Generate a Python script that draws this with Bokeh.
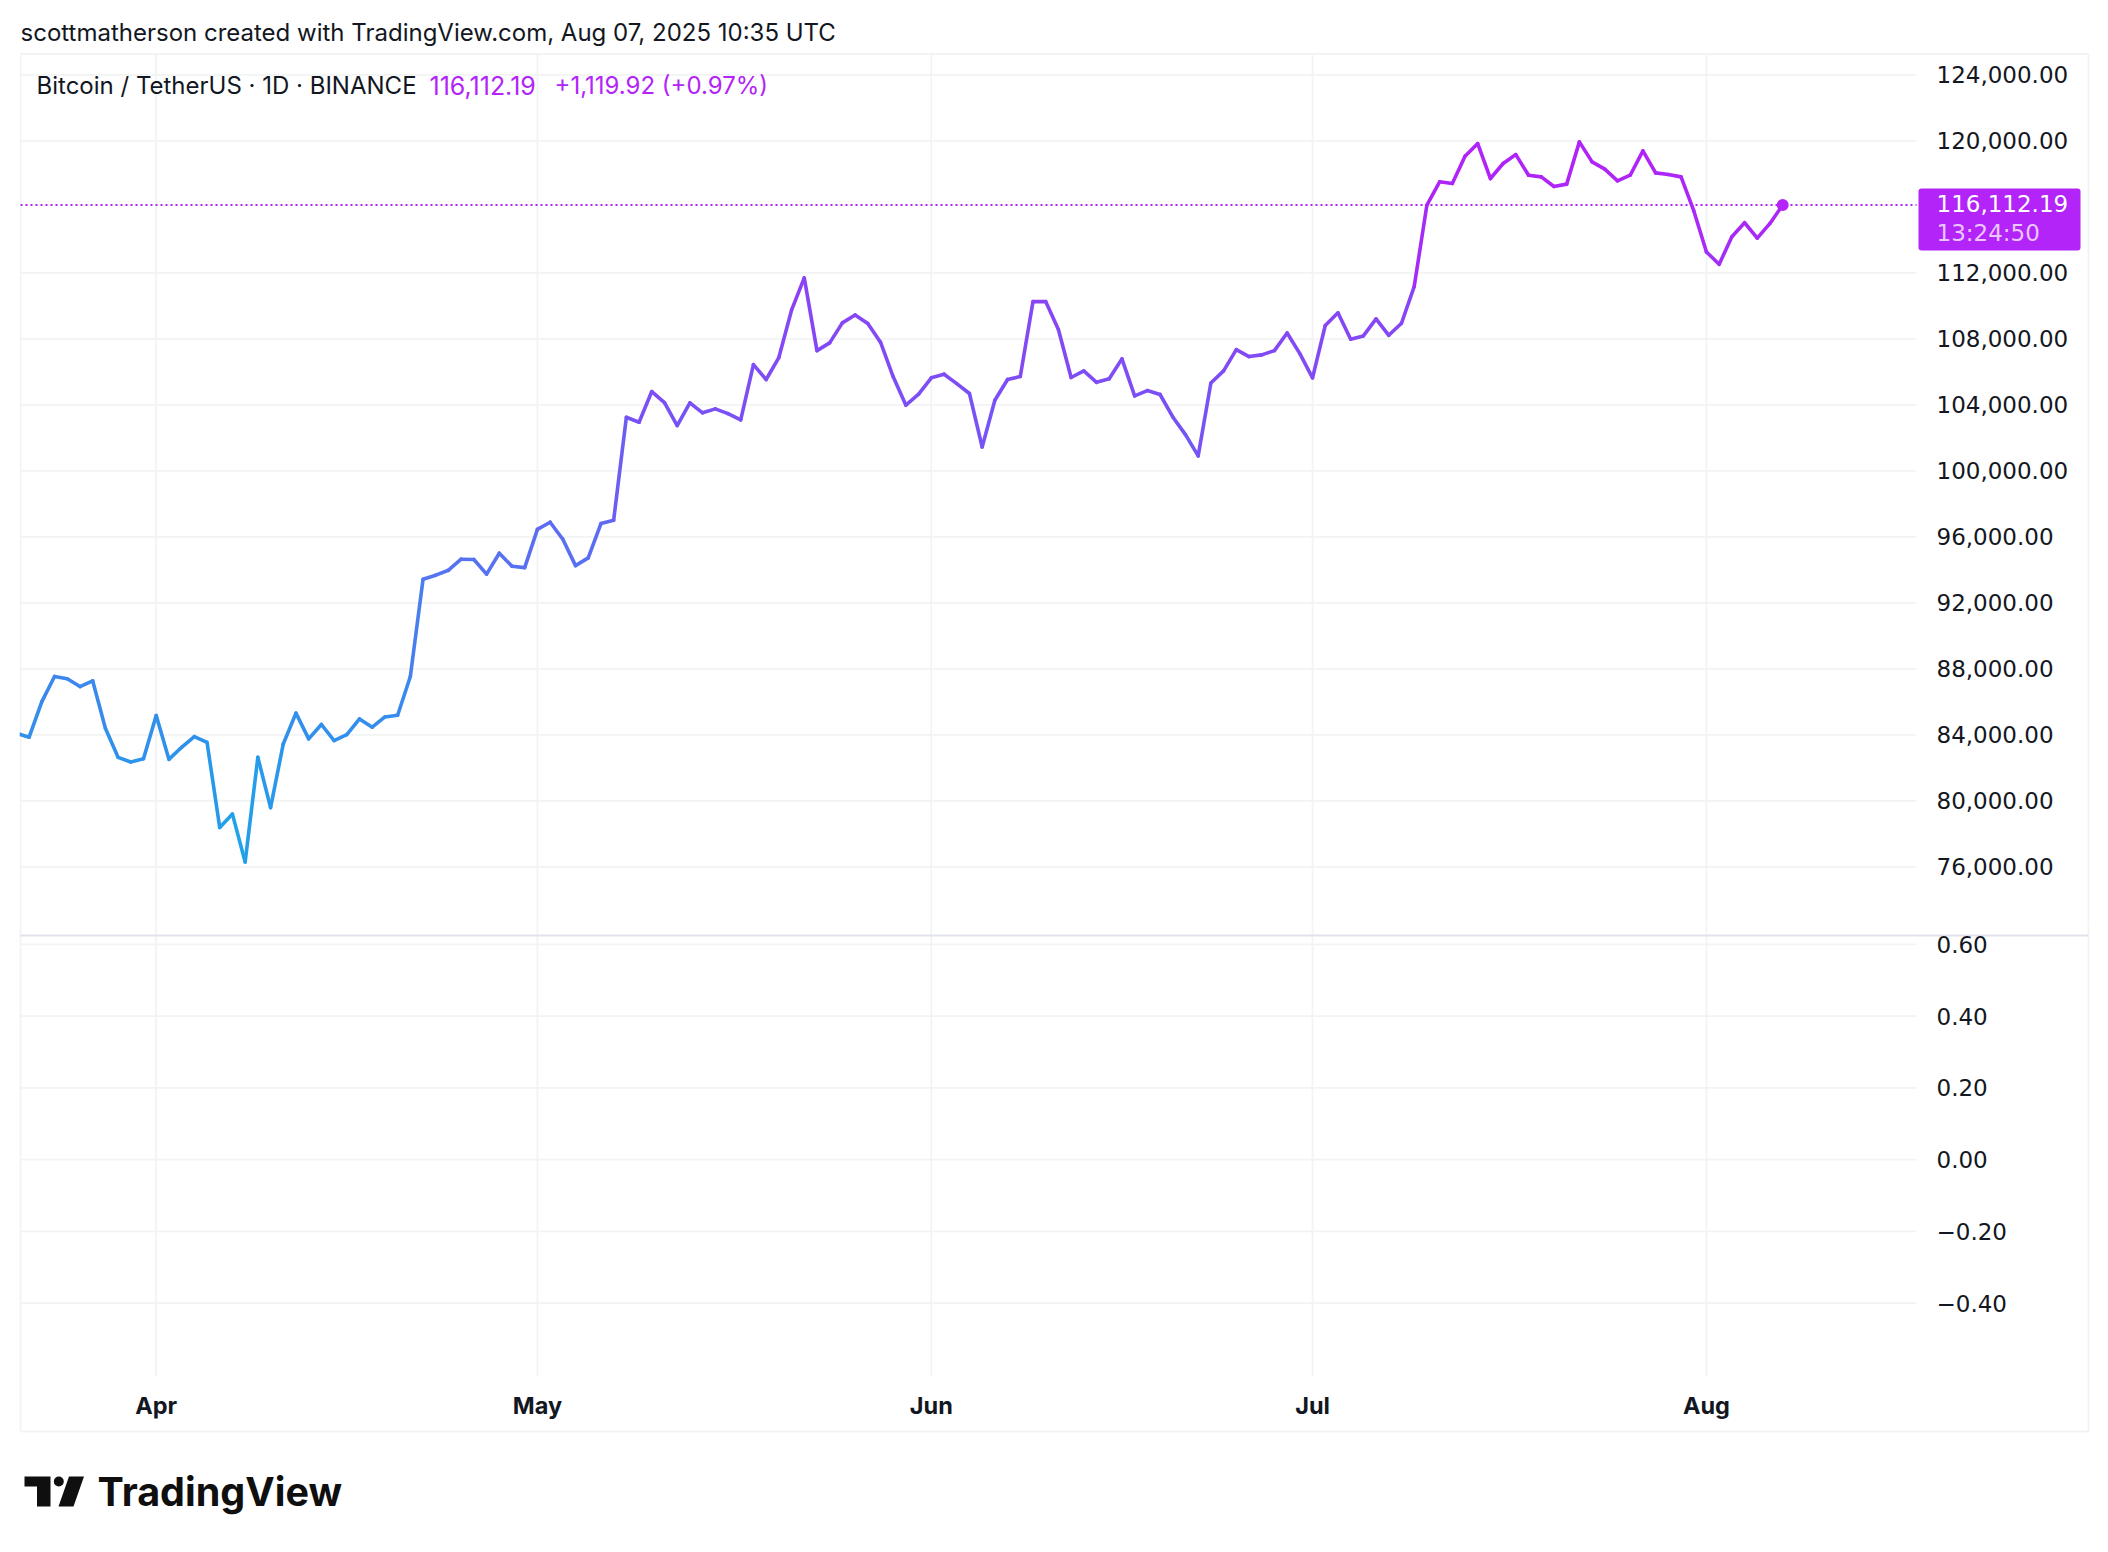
from bokeh.embed import file_html
from bokeh.resources import INLINE
from bokeh.plotting import figure
from bokeh.layouts import column
from bokeh.models import (Range1d, FixedTicker, Label, BoxAnnotation,
                          DatetimeTickFormatter, ColumnDataSource)
import pandas as pd

START_DATE = "2025-03-21"
close_march = [84100, 83860, 86020, 87540, 87400, 86930, 87280, 84400, 82640, 82360, 82560]
close_april = [85170, 82520, 83250, 83900, 83550, 78390, 79200, 76300, 82640, 79590,
               83450, 85320, 83760, 84630, 83660, 84020, 84970, 84470, 85090, 85190,
               87540, 93430, 93680, 93980, 94650, 94630, 93740, 95010, 94220, 94140]
close_may = [96460, 96890, 95860, 94260, 94730, 96810, 97010, 103250, 102950, 104810,
             104140, 102750, 104120, 103520, 103760, 103470, 103090, 106440, 105540, 106870,
             109740, 111700, 107290, 107760, 108970, 109450, 108930, 107800, 105700, 103980, 104650]
close_june = [105640, 105860, 105290, 104690, 101450, 104280, 105540, 105720, 110260, 110260,
              108570, 105660, 106060, 105370, 105580, 106790, 104550, 104870, 104630, 103270,
              102200, 100910, 105330, 106060, 107350, 106930, 107030, 107290, 108360, 107110]
close_july = [105640, 108810, 109580, 107980, 108180, 109210, 108220, 108950, 111170, 116110,
              117520, 117420, 119070, 119840, 117720, 118630, 119170, 117920, 117820, 117240,
              117380, 119940, 118730, 118290, 117580, 117920, 119400, 118060, 117960, 117820, 115770]
close_august = [113270, 112520, 114190, 115040, 114110, 115000, 116112.19]

price_ticks = [124000, 120000, 112000, 108000, 104000, 100000, 96000, 92000, 88000, 84000, 80000, 76000]
price_tick_labels = ["124,000.00", "120,000.00", "112,000.00", "108,000.00", "104,000.00", "100,000.00",
                     "96,000.00", "92,000.00", "88,000.00", "84,000.00", "80,000.00", "76,000.00"]
lower_ticks = [0.6, 0.4, 0.2, 0.0, -0.2, -0.4]
lower_tick_labels = ["0.60", "0.40", "0.20", "0.00", "\u22120.20", "\u22120.40"]
month_ticks = ["2025-04-01", "2025-05-01", "2025-06-01", "2025-07-01", "2025-08-01"]

last_price = 116112.19
header_text = "scottmatherson created with TradingView.com, Aug 07, 2025 10:35 UTC"
legend_name = "Bitcoin / TetherUS \u00b7 1D \u00b7 BINANCE"
legend_price = "116,112.19"
legend_change = "+1,119.92 (+0.97%)"
tag_price = "116,112.19"
tag_countdown = "13:24:50"

# ---- styles
FONT = "Inter"
NUM_FONT = "DejaVu Sans"
NUM_SIZE = "23px"
INK = "#131722"
GRID = "#F2F3F3"
SEP = "#E0E3EB"
PURPLE = "#B224F8"
LOGO = "#0F0F0F"
color_stops = [(76000, (26, 168, 232)), (84000, (49, 144, 236)), (92000, (79, 122, 240)),
               (104000, (122, 80, 245)), (110000, (136, 69, 244)), (114000, (168, 42, 247)),
               (120000, (178, 34, 248))]


def grad(v):
    for (a, ca), (b, cb) in zip(color_stops, color_stops[1:]):
        if v <= b:
            t = max(0.0, (v - a) / (b - a))
            return "#%02x%02x%02x" % tuple(round(x + (y - x) * t) for x, y in zip(ca, cb))
    return "#%02x%02x%02x" % color_stops[-1][1]


closes = close_march + close_april + close_may + close_june + close_july + close_august
dates = pd.date_range(START_DATE, periods=len(closes), freq="D")
month_ms = [pd.Timestamp(m).timestamp() * 1000 for m in month_ticks]

# layout geometry, in canvas pixels
W, H = 2100, 1544
SPLIT = 925
L_EDGE, GRID_R, OUTER_R = 20, 1916, 2088
TOP, SEP_Y, LOW_BOT, OUTER_BOT = 53.5, 935, 1376, 1431
DAY = 86400000.0
PX_DAY = 12.707
APR1_PX = 155.7


def x_of(px):
    return month_ms[0] + (px - APR1_PX) / PX_DAY * DAY


def y_of(py):
    return 120000 - (py - 140.4) / 16.5 * 1000


def low_of(py):
    return (1159.2 - py) * 0.2 / 71.75


x_range = Range1d(x_of(0), x_of(W))


def base_fig(height, yr):
    f = figure(width=W, height=height, x_range=x_range, y_range=yr, x_axis_type="datetime",
               output_backend="svg", toolbar_location=None, min_border=0,
               y_axis_location="right", background_fill_color="white", border_fill_color="white")
    f.outline_line_color = None
    f.grid.visible = False
    ax = f.yaxis[0]
    ax.axis_line_color = None
    ax.major_tick_line_color = None
    ax.minor_tick_line_color = None
    ax.major_tick_out = 0
    ax.major_tick_in = 0
    ax.major_label_text_font = NUM_FONT
    ax.major_label_text_font_size = NUM_SIZE
    ax.major_label_text_color = INK
    ax.major_label_standoff = 1936 - W
    return f


def rules(f, xa, ya, xb, yb, color=GRID, width=1.8):
    f.segment(x0=xa, y0=ya, x1=xb, y1=yb, line_color=color, line_width=width)


def text(f, x, y, s, oy=0, color=INK, size="24px", style="normal", font=FONT):
    f.add_layout(Label(x=x, y=y - oy, x_units="canvas", y_units="canvas", text=s, text_color=color,
                       text_font=font, text_font_size=size, text_font_style=style, text_baseline="middle"))


# ---- price pane
p1 = base_fig(SPLIT, Range1d(y_of(SPLIT), y_of(0)))
p1.xaxis.visible = False
p1.yaxis[0].ticker = FixedTicker(ticks=price_ticks)
p1.yaxis[0].major_label_overrides = dict(zip(price_ticks, price_tick_labels))

n = len(price_ticks)
rules(p1, [x_of(L_EDGE)] * n, price_ticks, [x_of(GRID_R)] * n, price_ticks)
m = len(month_ms)
rules(p1, month_ms, [y_of(TOP)] * m, month_ms, [y_of(SPLIT)] * m)
rules(p1, [x_of(L_EDGE), x_of(OUTER_R), x_of(L_EDGE)], [y_of(TOP), y_of(TOP), y_of(TOP)],
      [x_of(L_EDGE), x_of(OUTER_R), x_of(OUTER_R)], [y_of(SPLIT), y_of(SPLIT), y_of(TOP)])

p1.segment(x0=[x_of(L_EDGE)], y0=[last_price], x1=[x_of(GRID_R)], y1=[last_price],
           line_color=PURPLE, line_width=2, line_dash="2 3")

seg_x = [[a, b] for a, b in zip(dates[:-1], dates[1:])]
seg_y = [[a, b] for a, b in zip(closes[:-1], closes[1:])]
seg_c = [grad((a + b) / 2) for a, b in zip(closes[:-1], closes[1:])]
p1.multi_line(xs="xs", ys="ys", line_color="c", line_width=3.6, line_cap="round", line_join="round",
              source=ColumnDataSource(dict(xs=seg_x, ys=seg_y, c=seg_c)))
p1.scatter(x=[dates[-1]], y=[closes[-1]], size=12, color=PURPLE, line_color=None)

# the chart's left edge cuts the first day's segment off
p1.add_layout(BoxAnnotation(left=0, right=L_EDGE - 0.8, top=TOP, bottom=SPLIT,
                            left_units="canvas", right_units="canvas", top_units="canvas", bottom_units="canvas",
                            fill_color="white", fill_alpha=1, line_color=None))

text(p1, 20, 32, header_text)
text(p1, 36, 85, legend_name)
text(p1, 429, 85, legend_price, color=PURPLE, size="25px")
text(p1, 554, 85, legend_change, color=PURPLE)

p1.add_layout(BoxAnnotation(left=1918, right=2080, top=188, bottom=250,
                            left_units="canvas", right_units="canvas", top_units="canvas", bottom_units="canvas",
                            fill_color=PURPLE, fill_alpha=1, line_color=None, border_radius=3))
text(p1, 1936, 203, tag_price, color="white", size=NUM_SIZE, font=NUM_FONT)
text(p1, 1936, 232, tag_countdown, color="#EBC6FC", size=NUM_SIZE, font=NUM_FONT)

# ---- lower pane
p2 = base_fig(H - SPLIT, Range1d(low_of(H), low_of(SPLIT)))
p2.yaxis[0].ticker = FixedTicker(ticks=lower_ticks)
p2.yaxis[0].major_label_overrides = dict(zip(lower_ticks, lower_tick_labels))
xa = p2.xaxis[0]
xa.ticker = FixedTicker(ticks=month_ms)
xa.formatter = DatetimeTickFormatter(days="%b", months="%b", hours="%b", years="%b", context=None)
xa.axis_line_color = None
xa.major_tick_line_color = None
xa.minor_tick_line_color = None
xa.major_tick_out = 0
xa.major_tick_in = 0
xa.major_label_text_font = FONT
xa.major_label_text_font_size = "23.5px"
xa.major_label_text_font_style = "bold"
xa.major_label_text_color = INK
xa.major_label_standoff = -154

k = len(lower_ticks)
rules(p2, [x_of(L_EDGE)] * k, lower_ticks, [x_of(GRID_R)] * k, lower_ticks)
rules(p2, month_ms, [low_of(SPLIT)] * m, month_ms, [low_of(LOW_BOT)] * m)
rules(p2, [x_of(L_EDGE), x_of(OUTER_R), x_of(L_EDGE)], [low_of(SPLIT), low_of(SPLIT), low_of(OUTER_BOT)],
      [x_of(L_EDGE), x_of(OUTER_R), x_of(OUTER_R)], [low_of(OUTER_BOT), low_of(OUTER_BOT), low_of(OUTER_BOT)])
rules(p2, [x_of(L_EDGE)], [low_of(SEP_Y)], [x_of(OUTER_R)], [low_of(SEP_Y)], color=SEP, width=2)


# ---- logo
def logo_poly(px, py):
    p2.patch(x=[x_of(a) for a in px], y=[low_of(b) for b in py], fill_color=LOGO, line_color=None)


logo_poly([24, 50, 50, 36.5, 36.5, 24], [1476, 1476, 1506, 1506, 1486, 1486])
logo_poly([68.5, 83.5, 73, 58], [1476, 1476, 1506, 1506])
p2.scatter(x=[x_of(58.3)], y=[low_of(1481)], size=10, color=LOGO, line_color=None)
text(p2, 97, 1491, "TradingView", oy=SPLIT, color=LOGO, size="39.5px", style="bold")

open("out.html", "w").write(file_html(column(p1, p2, spacing=0), INLINE))
